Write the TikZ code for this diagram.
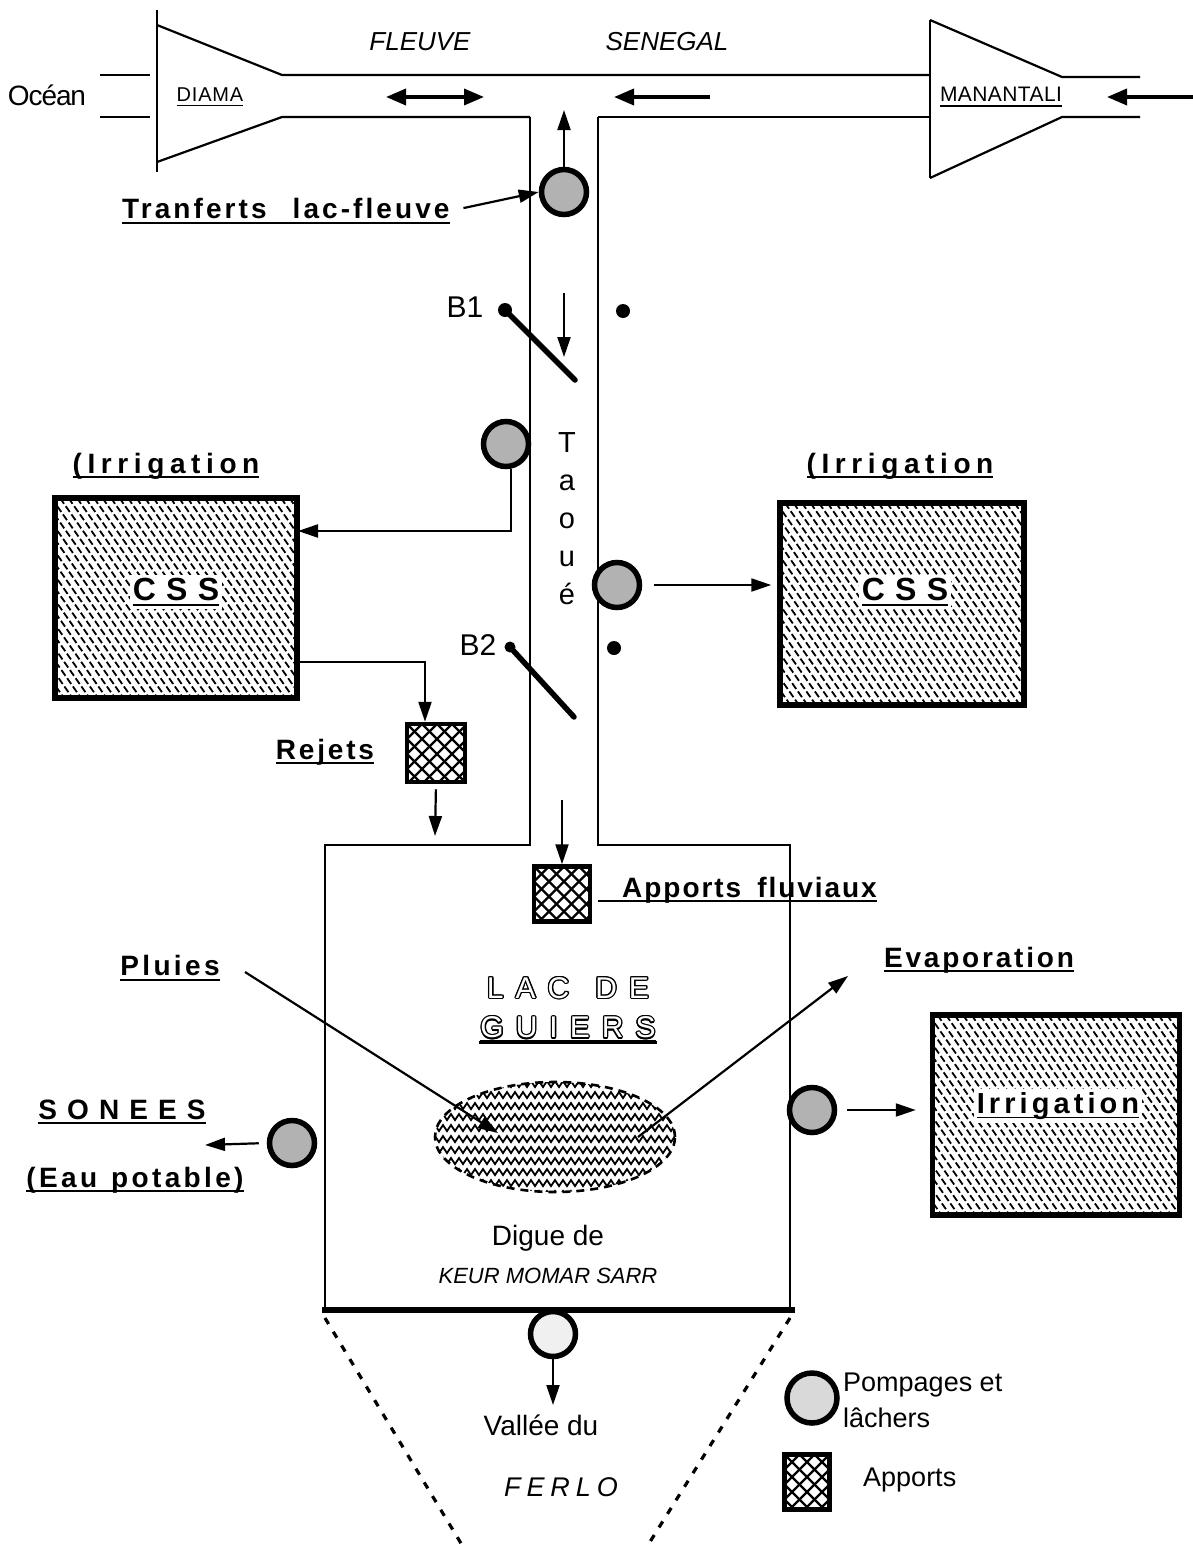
\documentclass[tikz,border=0pt]{standalone}
\usepackage{fontspec}
\setmainfont{Liberation Sans}
\usetikzlibrary{arrows.meta,decorations.pathmorphing}
\newsavebox\ulbox
\newcommand\ul[1]{\sbox\ulbox{#1}\rlap{\color{black}\rule[-5pt]{\wd\ulbox}{1.8pt}}\usebox\ulbox}
\newcommand\bs[2]{{\bfseries\addfontfeatures{LetterSpace=#1}#2}}
\newcommand\rs[2]{{\addfontfeatures{LetterSpace=#1}#2}}
\newcommand\fs[1]{\fontsize{#1}{#1}\selectfont}
\newcommand\outl[3]{%
  \foreach \a in {0,30,...,330}{\node[lacf,text=black] at ([shift={(\a:1.3pt)}]#2) {#3};}
  \node[lacf,text=white] (#1) at (#2) {#3};}
\tikzset{
  every node/.style={inner sep=0pt},
  lab/.style={font=\fs{28}},
  lacf/.style={font=\fs{30}},
  wall/.style={line width=2.2pt},
  arr/.style={line width=2.2pt,-{Triangle[length=20pt,width=13pt]}},
  bigarr/.style={line width=3.6pt,-{Triangle[length=20pt,width=16pt]}},
  pump/.style={circle,draw,line width=5.5pt,fill=gray!60,minimum size=45pt},
  bdot/.style={circle,fill,minimum size=14pt},
  gate/.style={line width=5.5pt,line cap=round},
  boxborder/.style={draw,line width=5.5pt},
  hatchline/.style={line width=1.8pt,dash pattern=on 7pt off 3pt},
  xline/.style={line width=2.2pt},
  hatch/.style={path picture={\foreach \k in {0,...,75}{\draw[hatchline] ([xshift={\k*8.5pt-250pt}]path picture bounding box.north west) -- ++(210pt,-300pt);}}},
  xhatch/.style={path picture={\foreach \k in {0,...,12}{\draw[xline] ([xshift={\k*15pt-90pt}]path picture bounding box.north west) -- ++(100pt,-100pt); \draw[xline] ([xshift={\k*15pt}]path picture bounding box.north west) -- ++(-100pt,-100pt);}}},
  zz/.style={line width=1.8pt,decorate,decoration={zigzag,segment length=8pt,amplitude=3pt}},
  ferlo/.style={line width=3.2pt,dash pattern=on 7pt off 9pt},
}
\begin{document}
\begin{tikzpicture}[x=1pt,y=-1pt]
\useasboundingbox (0,0) rectangle (1193,1545);
% ---------------- river ----------------
\draw[wall] (100,75) -- (150,75);
\draw[wall] (100,117) -- (150,117);
\draw[wall] (157,10) -- (157,172);
\draw[wall] (157,25) -- (282,75) -- (930,75);
\draw[wall] (157,162) -- (282,117) -- (530,117);
\draw[wall] (598,117) -- (930,117);
\draw[wall] (930,20) -- (930,178);
\draw[wall] (930,20) -- (1062,77) -- (1140,77);
\draw[wall] (930,178) -- (1062,117) -- (1140,117);
\node[font=\fs{28}] (ocean) at (47,95) {\rs{-4}{Océan}};
\node[font=\fs{20}] (diama) at (210,97) {\ul{\rs{4}{DIAMA}}};
\node[font=\fs{21}] (manantali) at (1001,97) {\ul{\rs{2}{MANANTALI}}};
\node[font=\fs{26}\itshape] (fleuve) at (420,42) {FLEUVE};
\node[font=\fs{26}\itshape] (senegal) at (667,42) {SENEGAL};
\coordinate (dA) at (386,97); \coordinate (dB) at (484,97);
\draw[bigarr,{Triangle[length=20pt,width=16pt]}-{Triangle[length=20pt,width=16pt]}] (dA) -- (dB);
\coordinate (fA) at (710,97); \coordinate (fB) at (614,97);
\draw[bigarr] (fA) -- (fB);
\coordinate (mA) at (1193,97); \coordinate (mB) at (1107,97);
\draw[bigarr] (mA) -- (mB);
% ---------------- Taoue channel ----------------
\draw[wall] (530,117) -- (530,845) -- (325,845) -- (325,1310);
\draw[wall] (598,117) -- (598,845) -- (790,845) -- (790,1310);
\node[pump] (pT) at (564,192) {};
\coordinate (riverIn) at (564,110);
\draw[arr] (pT.north) -- (riverIn);
\node[lab,anchor=west] (tranf) at (122,211) {\ul{\bs{11}{Tranferts\hspace{26pt}lac-fleuve}}};
\draw[arr,shorten <=14pt] (tranf.east) -- (pT.west);
\node[font=\fs{30}] (b1) at (465,307) {B1};
\node[bdot] (b1d) at (505,310) {};
\coordinate (b1e) at (575,380);
\draw[gate] (b1d.center) -- (b1e);
\node[bdot] (b1r) at (623,311) {};
\coordinate (c1a) at (564,293); \coordinate (c1b) at (564,357);
\draw[arr] (c1a) -- (c1b);
\node[font=\fs{29},align=center] (taoue) at (567,519) {T\\[9pt]a\\[9pt]o\\[9pt]u\\[9pt]é};
\node[pump] (pL) at (506,444) {};
\node[pump] (pR) at (617,585) {};
\node[font=\fs{30}] (b2) at (478,645) {B2};
\node[bdot,minimum size=11pt] (b2d) at (510,647) {};
\coordinate (b2e) at (574,717);
\draw[gate] (b2d.center) -- (b2e);
\node[bdot] (b2r) at (614,648) {};
% ---------------- CSS boxes ----------------
\node[boxborder,hatch,minimum width=242pt,minimum height=200pt] (cssL) at (176,598) {};
\node[font=\fs{32},fill=white,inner sep=3pt] (cssLt) at (176,592) {\ul{\bs{32}{CSS}}};
\node[lab] (irrL) at (166,466) {\ul{\bs{20}{(Irrigation}}};
\coordinate (cssLin) at (298,531);
\draw[arr] ([xshift=5pt]pL.south) |- (cssLin);
\node[boxborder,hatch,minimum width=244pt,minimum height=202pt] (cssR) at (902,604) {};
\node[font=\fs{32},fill=white,inner sep=3pt] (cssRt) at (905,592) {\ul{\bs{32}{CSS}}};
\node[lab] (irrR) at (900,466) {\ul{\bs{20}{(Irrigation}}};
\draw[arr,shorten <=12pt,shorten >=6pt] (pR.east) -- (pR -| cssR.west);
% ---------------- Rejets / Apports ----------------
\node[boxborder,xhatch,line width=4.5pt,minimum size=58pt] (rej) at (436,753) {};
\node[lab] (rejl) at (325,752) {\ul{\bs{10}{Rejets}}};
\coordinate (cssLout) at (298,662);
\draw[arr] (cssLout) -| ([xshift=-11pt]rej.north);
\coordinate (lakeInR) at (435,836);
\draw[arr,shorten <=5pt] (rej.south) -- (lakeInR);
\node[boxborder,xhatch,line width=4.5pt,minimum width=56pt,minimum height=55pt] (app) at (562,894) {};
\coordinate (c2a) at (562,800);
\draw[arr] (c2a) -- (app.north);
\node[lab,anchor=west] (appl) at (598,890) {\ul{\hspace{24pt}\bs{7}{Apports\hspace{16pt}fluviaux}}};
% ---------------- Lake ----------------
\outl{lacde}{568,988}{\rs{40}{LAC\hspace{26pt}DE}}
\outl{guiers}{568,1030}{\ul{\rs{40}{GUIERS}}}
\begin{scope}
\clip (555,1137) ellipse [x radius=120pt,y radius=55pt];
\foreach \yy in {1084,1095,...,1194} \draw[zz] (425,\yy) -- (690,\yy);
\end{scope}
\draw[line width=2.6pt,dash pattern=on 8pt off 6pt] (555,1137) ellipse [x radius=120pt,y radius=55pt];
\node[lab] (pluies) at (170,968) {\ul{\bs{12}{Pluies}}};
\coordinate (plS) at (245,972); \coordinate (plE) at (498,1133);
\draw[arr] (plS) -- (plE);
\node[lab] (evap) at (979,960) {\ul{\bs{10}{Evaporation}}};
\coordinate (evS) at (638,1137); \coordinate (evE) at (848,976);
\draw[arr] (evS) -- (evE);
\node[boxborder,hatch,minimum width=247pt,minimum height=200pt] (irr) at (1056,1115) {};
\node[font=\fs{29},fill=white,inner sep=3pt] (irrt) at (1058,1106) {\ul{\bs{14}{Irrigation}}};
\node[pump] (pI) at (812,1110) {};
\draw[arr,shorten <=10pt,shorten >=14pt] (pI.east) -- (pI -| irr.west);
\node[pump] (pS) at (292,1143) {};
\node[lab] (sonees) at (122,1112) {\ul{\bs{36}{SONEES}}};
\node[lab] (eau) at (135,1180) {\ul{\bs{12}{(Eau\hspace{14pt}potable)}}};
\coordinate (sonE) at (205,1145);
\draw[arr,shorten <=8pt] (pS.west) -- (sonE);
\node[font=\fs{28}] (digue) at (548,1238) {Digue de};
\node[font=\fs{22}\itshape] (kms) at (548,1276) {KEUR MOMAR SARR};
% ---------------- Ferlo ----------------
\draw[line width=6.5pt] (322,1310) -- (795,1310);
\node[pump,fill=gray!12] (pV) at (553,1334) {};
\coordinate (ferloIn) at (553,1405);
\draw[arr] (pV.south) -- (ferloIn);
\node[font=\fs{28}] (vallee) at (541,1425) {Vallée du};
\node[font=\fs{27}\itshape] (ferlo) at (561,1487) {\rs{22}{FERLO}};
\draw[ferlo] (325,1318) -- (462,1545);
\draw[ferlo] (790,1318) -- (648,1545);
% ---------------- legend ----------------
\node[pump,fill=gray!30,minimum size=50pt] (lgP) at (812,1398) {};
\node[font=\fs{27},anchor=west] (lgPt1) at (843,1385) {Pompages et};
\node[font=\fs{27},anchor=west] (lgPt2) at (843,1418) {lâchers};
\node[boxborder,xhatch,line width=4.5pt,minimum width=45pt,minimum height=55pt] (lgA) at (807,1482) {};
\node[font=\fs{27},anchor=west] (lgAt) at (863,1480) {Apports};
\end{tikzpicture}
\end{document}
